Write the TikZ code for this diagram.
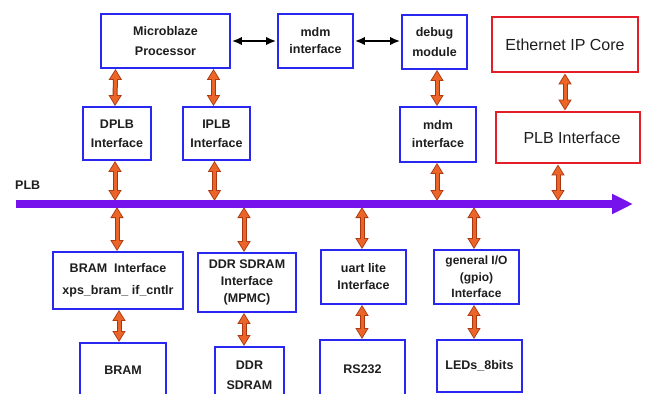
\documentclass[tikz,border=0pt]{standalone}
\usepackage{fontspec}
\setmainfont{Liberation Sans}
\usetikzlibrary{arrows.meta}
\definecolor{bblue}{RGB}{40,40,240}
\definecolor{rred}{RGB}{228,30,40}
\definecolor{pviolet}{RGB}{118,18,235}
\definecolor{ofill}{RGB}{235,100,40}
\definecolor{oedge}{RGB}{170,55,15}
\definecolor{txt}{RGB}{30,30,30}
\tikzset{
  bbox/.style={draw=bblue, line width=1.8pt, fill=white, text=txt, align=center, inner sep=0pt,
    font=\bfseries\fontsize{12.5}{17}\selectfont},
  rbox/.style={draw=rred, line width=2.8pt, fill=white, text=txt, align=center, inner sep=0pt,
    font=\fontsize{16}{18}\selectfont},
  fatout/.style={line width=5pt, draw=oedge,
    {Triangle[length=11pt,width=12.5pt]}-{Triangle[length=11pt,width=12.5pt]}},
  fatin/.style={line width=3pt, draw=ofill, shorten <=1.6pt, shorten >=1.6pt,
    {Triangle[length=8.6pt,width=9.6pt]}-{Triangle[length=8.6pt,width=9.6pt]}},
  blk/.style={line width=1.8pt, draw=black, {Latex[length=10pt,width=8.5pt]}-{Latex[length=10pt,width=8.5pt]}},
  bus/.style={line width=8pt, draw=pviolet, -{Triangle[length=21pt,width=19pt]}},
  buslabel/.style={font=\bfseries\fontsize{12.5}{14}\selectfont, text=txt, inner sep=0pt}
}
\newcommand\fatarr[2]{\draw[fatout] #1 -- #2; \draw[fatin] #1 -- #2;}
\begin{document}
\begin{tikzpicture}[x=1pt,y=-1pt]
\useasboundingbox (0,0) rectangle (649,394);
\clip (0,0) rectangle (649,394);
\fill[white] (0,0) rectangle (649,394);
% top row
\node[bbox, minimum width=129pt, minimum height=54pt, font=\bfseries\fontsize{12.5}{20}\selectfont] (mb) at (165.5,41) {Microblaze\\Processor};
\node[bbox, minimum width=75pt, minimum height=54pt] (mdmt) at (315.5,41) {mdm\\interface};
\node[bbox, minimum width=65pt, minimum height=54pt, font=\bfseries\fontsize{12.5}{20}\selectfont] (dbg) at (434.5,42) {debug\\module};
\node[rbox, minimum width=146pt, minimum height=55pt] (eth) at (565,44.5) {Ethernet IP Core};
% second row
\node[bbox, minimum width=68pt, minimum height=53pt, font=\bfseries\fontsize{12.5}{19}\selectfont] (dplb) at (117,133.5) {DPLB\\Interface};
\node[bbox, minimum width=67pt, minimum height=53pt, font=\bfseries\fontsize{12.5}{19}\selectfont] (iplb) at (216.5,133.5) {IPLB\\Interface};
\node[bbox, minimum width=76pt, minimum height=55pt, font=\bfseries\fontsize{12.5}{18}\selectfont] (mdmm) at (438,134.5) {mdm\\interface};
\node[rbox, minimum width=144pt, minimum height=51pt] (plbif) at (568,137.5) {\hspace*{8pt}PLB Interface};
% bus
\coordinate (busL) at (16,204);
\coordinate (busR) at (633,204);
\coordinate (busT) at (0,201);
\coordinate (busB) at (0,207);
\node[buslabel, anchor=west] (plblabel) at (15,185) {PLB};
% third row
\node[bbox, minimum width=130pt, minimum height=57pt, font=\bfseries\fontsize{12.5}{22}\selectfont] (brif) at (118,280.5) {BRAM\ \ Interface\\xps\_bram\_ if\_cntlr};
\node[bbox, minimum width=98pt, minimum height=59pt] (ddrif) at (247,282.5) {DDR SDRAM\\Interface\\(MPMC)};
\node[bbox, minimum width=85pt, minimum height=54pt, font=\bfseries\fontsize{12.5}{17}\selectfont] (uart) at (363.5,277) {uart lite\\Interface};
\node[bbox, minimum width=85pt, minimum height=54pt, font=\bfseries\fontsize{12}{16.5}\selectfont] (gpio) at (476.5,277) {general I/O\\(gpio)\\Interface};
% bottom row
\node[bbox, anchor=north, minimum width=86pt, minimum height=54pt] (bram) at (123,342) {BRAM};
\node[bbox, anchor=north, minimum width=69pt, minimum height=56pt, font=\bfseries\fontsize{12.5}{20}\selectfont] (ddr) at (249.5,346) {DDR\\SDRAM};
\node[bbox, anchor=north, minimum width=85pt, minimum height=58pt] (rs) at (362.5,339) {RS232};
\node[bbox, anchor=north, minimum width=85pt, minimum height=52pt] (leds) at (479.5,339) {LEDs\_8bits};
% black arrows
\draw[blk] ([xshift=1pt]mb.east) -- ([xshift=-1pt]mdmt.west);
\draw[blk] ([xshift=1pt]mdmt.east) -- ([xshift=-1pt]mdmt.east -| dbg.west);
% orange arrows
\fatarr{([xshift=-50pt]mb.south)}{([xshift=-2pt]dplb.north)}
\fatarr{([xshift=48pt]mb.south)}{([xshift=-3pt]iplb.north)}
\fatarr{([xshift=-2pt]dplb.south)}{([xshift=-2pt]dplb.south |- busT)}
\fatarr{([xshift=-2pt]iplb.south)}{([xshift=-2pt]iplb.south |- busT)}
\fatarr{([xshift=2.5pt]dbg.south)}{([xshift=-1pt]mdmm.north)}
\fatarr{([xshift=-1pt]mdmm.south)}{([xshift=-1pt]mdmm.south |- busT)}
\fatarr{(eth.south)}{(eth.south |- plbif.north)}
\fatarr{([xshift=-10pt]plbif.south)}{([xshift=-10pt]plbif.south |- busT)}
\fatarr{([xshift=-1pt]brif.north |- busB)}{([xshift=-1pt]brif.north)}
\fatarr{([xshift=1pt]brif.south)}{([xshift=1pt]brif.south |- bram.north)}
\fatarr{([xshift=-3pt]ddrif.north |- busB)}{([xshift=-3pt]ddrif.north)}
\fatarr{([xshift=-3pt]ddrif.south)}{([xshift=-3pt]ddrif.south |- ddr.north)}
\fatarr{([xshift=-1.5pt]uart.north |- busB)}{([xshift=-1.5pt]uart.north)}
\fatarr{([xshift=-1.5pt]uart.south)}{([xshift=-1.5pt]uart.south |- rs.north)}
\fatarr{([xshift=-2.5pt]gpio.north |- busB)}{([xshift=-2.5pt]gpio.north)}
\fatarr{([xshift=-2.5pt]gpio.south)}{([xshift=-2.5pt]gpio.south |- leds.north)}
% bus on top
\draw[bus] (busL) -- (busR);
\end{tikzpicture}
\end{document}
